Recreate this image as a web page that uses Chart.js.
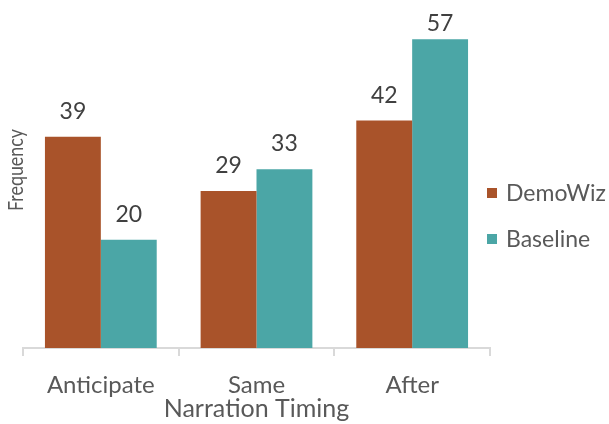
<!DOCTYPE html>
<html>
<head>
<meta charset="utf-8">
<script src="https://cdn.jsdelivr.net/npm/chart.js@4"></script>
<style>
  html, body { margin: 0; padding: 0; background: #fff; }
  #wrap { width: 609px; height: 424px; position: relative; }
</style>
</head>
<body>
<div id="wrap"><canvas id="myChart"></canvas></div>
<script>
// data
const categories = ['Anticipate', 'Same', 'After'];
const seriesNames = ['DemoWiz', 'Baseline'];
const demowizValues = [39, 29, 42];
const baselineValues = [20, 33, 57];
const seriesColors = ['#A9532A', '#4BA6A6'];

const textGray = '#595959';
const fontFamily = 'Lato, "Open Sans", sans-serif';

// value labels above each bar
const valueLabels = {
    id: 'valueLabels',
    afterDatasetsDraw(chart) {
        const ctx = chart.ctx;
        ctx.save();
        ctx.font = '23px ' + fontFamily;
        ctx.fillStyle = '#404040';
        ctx.textAlign = 'center';
        ctx.textBaseline = 'alphabetic';
        chart.data.datasets.forEach((ds, i) => {
            const meta = chart.getDatasetMeta(i);
            meta.data.forEach((bar, j) => {
                let y = bar.y - 18;
                if (y < 31) y = 31; // keep inside the top edge
                ctx.fillText(ds.data[j], bar.x, y);
            });
        });
        ctx.restore();
    }
};

// legend on the right, overlapping the axis end like the original
const sideLegend = {
    id: 'sideLegend',
    afterDraw(chart) {
        const ctx = chart.ctx;
        ctx.save();
        ctx.font = '23px ' + fontFamily;
        ctx.textBaseline = 'middle';
        chart.data.datasets.forEach((ds, i) => {
            const y = 193 + i * 46;
            ctx.fillStyle = ds.backgroundColor;
            ctx.fillRect(487, y - 5, 10, 10);
            ctx.fillStyle = textGray;
            ctx.fillText(ds.label, 506, y + 1);
        });
        ctx.restore();
    }
};

// squashed vertical y title
const yTitle = {
    id: 'yTitle',
    afterDraw(chart) {
        const ctx = chart.ctx;
        ctx.save();
        ctx.translate(23, 170);
        ctx.rotate(-Math.PI / 2);
        ctx.scale(0.85, 1);
        ctx.font = '21px ' + fontFamily;
        ctx.fillStyle = textGray;
        ctx.textAlign = 'center';
        ctx.textBaseline = 'alphabetic';
        ctx.fillText('Frequency', 0, 0);
        ctx.restore();
    }
};

const ctx = document.getElementById('myChart').getContext('2d');

new Chart(ctx, {
    type: 'bar',
    data: {
        labels: categories,
        datasets: [
            {
                label: seriesNames[0],
                data: demowizValues,
                backgroundColor: seriesColors[0],
                categoryPercentage: 0.718,
                barPercentage: 1.0
            },
            {
                label: seriesNames[1],
                data: baselineValues,
                backgroundColor: seriesColors[1],
                categoryPercentage: 0.718,
                barPercentage: 1.0
            }
        ]
    },
    options: {
        responsive: true,
        maintainAspectRatio: false,
        animation: false,
        layout: {
            padding: { top: 23, left: 23, right: 119, bottom: 0 }
        },
        plugins: {
            legend: { display: false },
            tooltip: { enabled: false }
        },
        scales: {
            y: {
                display: false,
                min: 0,
                max: 60
            },
            x: {
                afterFit(scale) {
                    scale.height = 76;
                },
                grid: {
                    drawOnChartArea: false,
                    drawTicks: true,
                    tickLength: 8,
                    color: '#d9d9d9',
                    lineWidth: 2
                },
                border: { color: '#d9d9d9', width: 2 },
                ticks: {
                    color: textGray,
                    padding: 15,
                    font: { family: fontFamily, size: 24 }
                },
                title: {
                    display: true,
                    text: 'Narration Timing',
                    color: textGray,
                    padding: { top: 0, bottom: 0 },
                    font: { family: fontFamily, size: 25 }
                }
            }
        }
    },
    plugins: [valueLabels, sideLegend, yTitle]
});
</script>
</body>
</html>
